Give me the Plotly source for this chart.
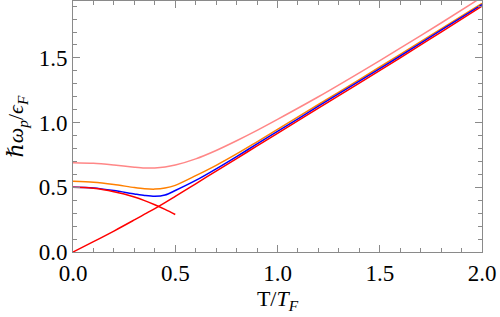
import plotly.graph_objects as go

# Temperature grid (T/T_F)
T = [0, 0.1, 0.2, 0.3, 0.35, 0.4, 0.45, 0.5, 0.6, 0.7, 0.8, 0.9, 1.0, 1.2, 1.4, 1.6, 1.8, 2.0]

# Classical (high-T) line
classical = [0, 0.08, 0.162, 0.248, 0.292, 0.336, 0.382, 0.43, 0.527, 0.625, 0.722, 0.82, 0.917, 1.112, 1.305, 1.5, 1.7, 1.9]

# Low-T expansion (red curve)
T_low = [0, 0.05, 0.1, 0.15, 0.2, 0.25, 0.3, 0.35, 0.4, 0.45, 0.5]
lowT = [0.5, 0.498, 0.492, 0.481, 0.466, 0.448, 0.425, 0.397, 0.365, 0.329, 0.29]

# Full curves
blue = [0.5, 0.495, 0.475, 0.449, 0.437, 0.43, 0.44, 0.475, 0.553, 0.643, 0.738, 0.835, 0.932, 1.127, 1.32, 1.515, 1.714, 1.912]
orange = [0.547, 0.54, 0.522, 0.498, 0.489, 0.486, 0.494, 0.515, 0.59, 0.67, 0.758, 0.852, 0.947, 1.14, 1.333, 1.527, 1.725, 1.922]
pink = [0.69, 0.685, 0.672, 0.656, 0.65, 0.65, 0.657, 0.672, 0.72, 0.785, 0.86, 0.94, 1.025, 1.2, 1.385, 1.575, 1.77, 1.97]

SERIF = "Liberation Serif, Times New Roman, DejaVu Serif, serif"

fig = go.Figure()
lw = 1.5
fig.add_trace(go.Scatter(x=T, y=pink, mode="lines", line=dict(color="rgb(255,135,135)", width=lw, shape="spline", smoothing=0.8)))
fig.add_trace(go.Scatter(x=T, y=orange, mode="lines", line=dict(color="rgb(255,128,0)", width=lw, shape="spline", smoothing=0.8)))
fig.add_trace(go.Scatter(x=T, y=blue, mode="lines", line=dict(color="rgb(0,0,255)", width=lw, shape="spline", smoothing=0.8)))
fig.add_trace(go.Scatter(x=T_low, y=lowT, mode="lines", line=dict(color="rgb(255,0,0)", width=lw, shape="spline")))
fig.add_trace(go.Scatter(x=T, y=classical, mode="lines", line=dict(color="rgb(255,0,0)", width=lw, shape="spline")))

axis_common = dict(
    showgrid=False, zeroline=False, showline=True, linecolor="#8a8a8a", linewidth=1,
    mirror="ticks", ticks="inside", ticklen=7, tickwidth=1, tickcolor="#8a8a8a",
    tickformat=".1f", dtick=0.5, tick0=0,
    tickfont=dict(family=SERIF, size=23, color="black"),
    minor=dict(dtick=0.1, ticks="inside", ticklen=4, tickwidth=1, tickcolor="#8a8a8a", showgrid=False),
)

fig.update_layout(
    width=500, height=317,
    margin=dict(l=73, r=18, t=1, b=65),
    paper_bgcolor="white", plot_bgcolor="white",
    showlegend=False,
    font=dict(family=SERIF, color="black"),
    xaxis=dict(range=[0, 2.0], **axis_common,
               title=dict(text="T/<i>T</i><sub><i>F</i></sub>", standoff=6,
                          font=dict(family=SERIF, size=22, color="black"))),
    yaxis=dict(range=[0, 1.94], **axis_common,
               title=dict(text="<i>ℏω</i><sub><i>p</i></sub>/<i>ϵ</i><sub><i>F</i></sub>", standoff=8,
                          font=dict(family=SERIF, size=22, color="black"))),
)

fig.write_html("out.html", config={"displayModeBar": False},
               post_script="document.body.style.margin='0';document.body.style.padding='0';")
